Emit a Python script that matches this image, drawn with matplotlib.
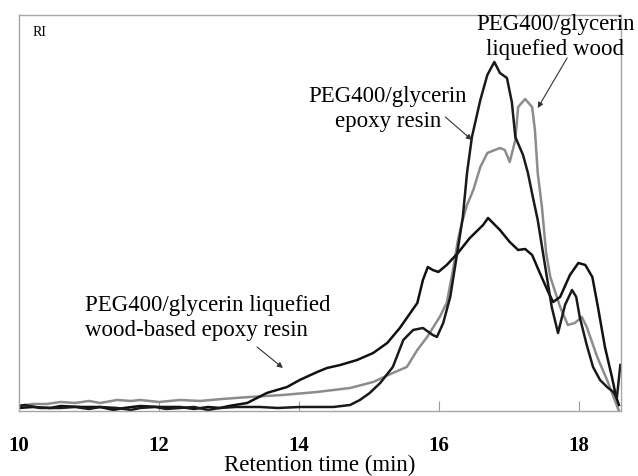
import matplotlib
matplotlib.use("Agg")
import matplotlib.pyplot as plt

# retention time (min) and RI signal (arbitrary units)
epoxy_t = [10.0, 10.08, 10.3, 10.59, 10.8, 11.0, 11.16, 11.4, 11.6, 11.73, 11.95, 12.1, 12.30,
           12.5, 12.7, 12.87, 13.1, 13.44, 13.7, 14.01, 14.49, 14.73, 14.87, 15.01,
           15.16, 15.34, 15.49, 15.63, 15.77, 15.91, 15.97, 16.06, 16.16, 16.26, 16.34, 16.40,
           16.47, 16.59, 16.69, 16.79, 16.87, 16.97, 17.04, 17.09, 17.20, 17.27, 17.34, 17.41,
           17.49, 17.61, 17.70, 17.80, 17.90, 17.96, 18.01, 18.11, 18.20, 18.30, 18.40, 18.49,
           18.54, 18.59]
epoxy_ri = [5, 6, 3, 3, 4, 2, 4, 3, 1, 3, 4, 2, 3,
            4, 1, 3, 4, 4, 3, 4, 4, 6, 11, 18,
            28, 44, 71, 81, 83, 76, 74, 88, 114, 158, 194, 238,
            274, 311, 336, 349, 338, 333, 309, 274, 256, 238, 214, 191,
            156, 104, 78, 106, 121, 114, 94, 66, 44, 31, 24, 19,
            13, 46]

wood_t = [10.0, 10.2, 10.4, 10.59, 10.8, 11.0, 11.16, 11.4, 11.6, 11.73, 12.0, 12.30, 12.59,
          12.9, 13.30, 13.77, 14.26, 14.73, 15.06, 15.34,
          15.54, 15.69, 15.83, 16.01, 16.11, 16.20, 16.27, 16.33, 16.40, 16.49, 16.59, 16.69,
          16.87, 16.94, 17.01, 17.09, 17.13, 17.23, 17.33, 17.37, 17.41, 17.47, 17.53, 17.59,
          17.73, 17.84, 17.94, 18.04, 18.11, 18.26, 18.40, 18.51, 18.57]
wood_ri = [5, 7, 7, 9, 8, 10, 8, 11, 10, 11, 9, 11, 10,
           12, 14, 16, 19, 23, 29, 38,
           44, 61, 74, 94, 108, 141, 171, 189, 206, 221, 244, 258,
           263, 261, 249, 271, 304, 312, 304, 281, 238, 204, 158, 134,
           104, 86, 88, 94, 84, 54, 31, 11, 0]

wood_epoxy_t = [10.0, 10.2, 10.45, 10.59, 10.9, 11.16, 11.35, 11.5, 11.73, 12.0, 12.30, 12.5,
                12.7, 12.87, 13.0, 13.26, 13.54, 13.83, 14.01, 14.26, 14.40,
                14.59, 14.83, 15.06, 15.26, 15.44, 15.59, 15.69, 15.77, 15.84, 15.91, 15.99, 16.11,
                16.27, 16.44, 16.63, 16.70, 16.87, 17.01, 17.13, 17.23, 17.33, 17.44, 17.56, 17.63,
                17.73, 17.87, 17.99, 18.09, 18.19, 18.27, 18.37, 18.47, 18.53, 18.57]
wood_epoxy_ri = [3, 4, 3, 5, 4, 4, 1, 3, 5, 4, 4, 2,
                 4, 3, 5, 8, 18, 24, 31, 39, 43,
                 46, 51, 58, 68, 83, 98, 108, 131, 144, 141, 139, 146,
                 158, 173, 186, 193, 181, 169, 161, 162, 156, 138, 119, 109,
                 114, 136, 148, 146, 134, 104, 64, 34, 14, 6]

xticks = [10, 12, 14, 16, 18]

serif = ["Liberation Serif", "DejaVu Serif"]
plt.rcParams["font.family"] = serif

fig = plt.figure(figsize=(6.38, 4.76), dpi=100)
ax = fig.add_axes([0.0298, 0.1366, 0.9436, 0.8319])

ax.plot(wood_t, wood_ri, color="#8c8c8c", lw=1.8)
ax.plot(wood_epoxy_t, wood_epoxy_ri, color="#111111", lw=1.8)
ax.plot(epoxy_t, epoxy_ri, color="#1a1a1a", lw=1.8)

ax.set_xlim(10, 18.6)
ax.set_ylim(0, 396)
ax.set_yticks([])
ax.set_xticks(xticks)
ax.tick_params(axis="x", direction="in", length=7, color="#999999", pad=18,
               labelsize=15)
for lbl in ax.get_xticklabels():
    lbl.set_fontweight("bold")
for sp in ax.spines.values():
    sp.set_color("#a6a6a6")
    sp.set_linewidth(1.0)

ax.set_xlabel("Retention time (min)", fontsize=16.5, labelpad=-1)

ax.text(0.022, 0.955, "RI", transform=ax.transAxes, fontsize=10, ha="left", va="center")

arrow = dict(arrowstyle="-|>", color="#333333", lw=0.8, mutation_scale=8, shrinkA=0, shrinkB=0)

ax.text(17.66, 374, "PEG400/glycerin\nliquefied wood", fontsize=16.5, ha="center",
        va="center", linespacing=1.25, clip_on=False)
ax.annotate("", xy=(17.41, 303), xytext=(17.83, 353), arrowprops=arrow)

ax.text(15.27, 302, "PEG400/glycerin\nepoxy resin", fontsize=16.5, ha="center",
        va="center", linespacing=1.25)
ax.annotate("", xy=(16.47, 271), xytext=(16.09, 294), arrowprops=arrow)

ax.text(10.94, 93, "PEG400/glycerin liquefied\nwood-based epoxy resin", fontsize=16.5,
        ha="left", va="center", linespacing=1.25)
ax.annotate("", xy=(13.77, 43), xytext=(13.4, 64), arrowprops=arrow)

fig.savefig("out.png", dpi=100)
